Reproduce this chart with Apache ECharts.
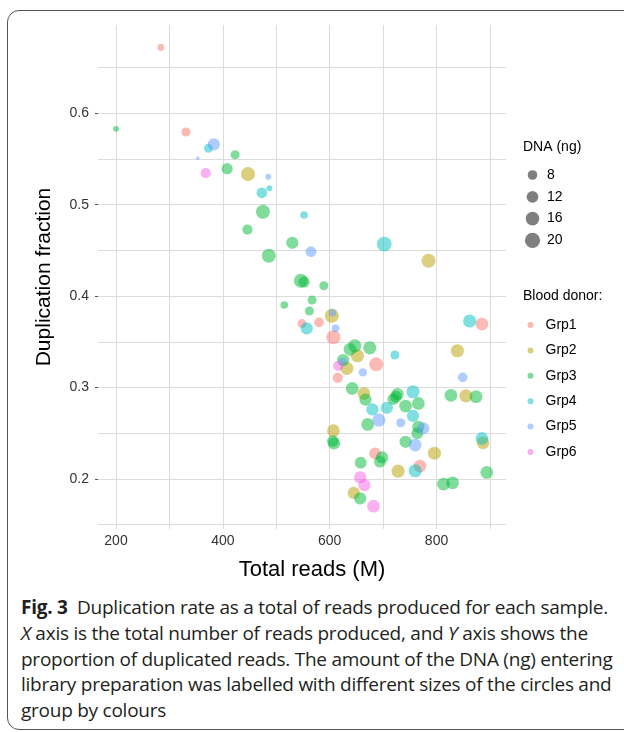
<!DOCTYPE html>
<html>
<head>
<meta charset="utf-8">
<script src="https://cdn.jsdelivr.net/npm/echarts@6/dist/echarts.min.js"></script>
<style>
  html, body { margin: 0; padding: 0; background: #fff; }
  #wrap { position: relative; width: 624px; height: 732px; overflow: hidden; }
  #frame { position: absolute; left: 7px; top: 10px; width: 640px; height: 720px;
           border: 1.5px solid #555; border-radius: 12px; box-sizing: border-box; }
  #chart { position: absolute; left: 0; top: 0; width: 624px; height: 590px; }
  #caption { position: absolute; left: 21px; top: 595px; width: 600px; white-space: nowrap;
             font-family: "Open Sans"; font-size: 19px; line-height: 25.8px; color: #231f20;
             letter-spacing: -0.25px; }
  #caption b { font-weight: 700; }
</style>
</head>
<body>
<div id="wrap">
  <div id="frame"></div>
  <div id="chart"></div>
  <div id="caption">
    <b>Fig. 3</b>&nbsp; Duplication rate as a total of reads produced for each sample.<br>
    <i>X</i> axis is the total number of reads produced, and <i>Y</i> axis shows the<br>
    proportion of duplicated reads. The amount of the DNA (ng) entering<br>
    library preparation was labelled with different sizes of the circles and<br>
    group by colours
  </div>
</div>
<script>
// [total reads (M), duplication fraction, DNA (ng)]
const grp1 = [
  [284, 0.672, 4], [331, 0.5795, 7], [548, 0.370, 7], [580, 0.3713, 8],
  [607, 0.355, 17], [687, 0.3254, 17], [615, 0.3107, 9], [885, 0.3695, 14],
  [685, 0.228, 12], [769, 0.2141, 14]
]
const grp2 = [
  [447, 0.5335, 17], [785, 0.4387, 17], [604, 0.3786, 17], [652, 0.3348, 15],
  [632, 0.321, 15], [839, 0.3403, 15], [664, 0.2935, 14], [855, 0.291, 15],
  [607, 0.2528, 14], [796, 0.2282, 15], [887, 0.2396, 14], [728, 0.2086, 15],
  [645, 0.1849, 13]
]
const grp3 = [
  [200, 0.583, 3], [423, 0.5547, 7], [408, 0.5394, 11], [475, 0.4923, 17],
  [446, 0.4727, 9], [530, 0.4584, 13], [486, 0.4442, 17], [546, 0.4169, 17],
  [552, 0.4155, 11], [589, 0.4114, 7], [567, 0.3957, 7], [515, 0.3903, 5],
  [562, 0.3837, 7], [647, 0.3457, 15], [638, 0.3418, 14], [675, 0.3435, 15],
  [625, 0.3301, 13], [642, 0.2991, 14], [667, 0.2867, 13], [719, 0.2874, 12],
  [724, 0.290, 12], [727, 0.2929, 13], [742, 0.2798, 14], [766, 0.2827, 14],
  [671, 0.2597, 14], [766, 0.2571, 13], [764, 0.2499, 12], [742, 0.2407, 13],
  [608, 0.2389, 13], [606, 0.2415, 12], [698, 0.2237, 13], [694, 0.2189, 12],
  [658, 0.2178, 12], [657, 0.1788, 13], [827, 0.2915, 14], [874, 0.290, 14],
  [894, 0.2072, 14], [813, 0.1944, 14], [830, 0.1958, 14]
]
const grp4 = [
  [373, 0.5617, 7], [473, 0.5131, 10], [487, 0.518, 3], [552, 0.4887, 5],
  [702, 0.457, 19], [557, 0.3648, 13], [722, 0.3356, 7], [862, 0.3728, 15],
  [756, 0.2954, 15], [680, 0.2761, 13], [707, 0.2779, 13], [756, 0.2691, 13],
  [885, 0.2444, 14], [760, 0.209, 15]
]
const grp5 = [
  [383, 0.566, 13], [353, 0.5508, 1], [485, 0.5306, 3], [565, 0.4486, 10],
  [605, 0.3818, 5], [611, 0.3648, 5], [624, 0.3282, 5], [662, 0.3166, 6],
  [849, 0.3112, 8], [692, 0.2644, 15], [733, 0.2615, 7], [775, 0.2553, 13],
  [760, 0.2371, 14]
]
const grp6 = [
  [368, 0.5346, 9], [616, 0.3238, 9], [657, 0.2017, 13], [665, 0.1933, 13],
  [682, 0.1703, 14]
]

const groupNames = ['Grp1', 'Grp2', 'Grp3', 'Grp4', 'Grp5', 'Grp6']
const groupData = [grp1, grp2, grp3, grp4, grp5, grp6]
const groupColors = ['#F8766D', '#B79F00', '#00BA38', '#00BFC4', '#619CFF', '#F564E3']

const xLabels = [200, 400, 600, 800]
const xGrid = [200, 300, 400, 500, 600, 700, 800, 900]
const yLabels = [0.2, 0.3, 0.4, 0.5, 0.6]
const yGrid = [0.15, 0.2, 0.25, 0.3, 0.35, 0.4, 0.45, 0.5, 0.55, 0.6, 0.65]
const dnaBreaks = [8, 12, 16, 20]

const FONT = 'Liberation Sans'
const dotSize = v => 3.4 * Math.sqrt(v)

const chart = echarts.init(document.getElementById('chart'))

const graphics = [
  {
    type: 'text', x: 44, y: 277, rotation: Math.PI / 2,
    style: { text: 'Duplication fraction', font: '21px "' + FONT + '"', fill: '#000',
             align: 'center', verticalAlign: 'middle' }
  },
  {
    type: 'text', x: 312, y: 570,
    style: { text: 'Total reads (M)', font: '22px "' + FONT + '"', fill: '#000',
             align: 'center', verticalAlign: 'middle' }
  },
  {
    type: 'text', x: 523, y: 147,
    style: { text: 'DNA (ng)', font: '14px "' + FONT + '"', fill: '#000', verticalAlign: 'middle' }
  },
  {
    type: 'text', x: 523, y: 296,
    style: { text: 'Blood donor:', font: '14px "' + FONT + '"', fill: '#000', verticalAlign: 'middle' }
  }
]
dnaBreaks.forEach((v, i) => {
  const cy = 175 + i * 21.8
  graphics.push({
    type: 'circle', shape: { cx: 532.5, cy: cy, r: dotSize(v) / 2 },
    style: { fill: 'rgba(0,0,0,0.5)' }
  })
  graphics.push({
    type: 'text', x: 547, y: cy,
    style: { text: String(v), font: '14px "' + FONT + '"', fill: '#000', verticalAlign: 'middle' }
  })
})

const option = {
  animation: false,
  textStyle: { fontFamily: FONT },
  grid: { left: 98, right: 118, top: 25, bottom: 61 },
  xAxis: {
    type: 'value', min: 166.3, max: 930,
    axisLine: { show: false },
    axisTick: { show: false, customValues: xGrid },
    splitLine: { show: true, lineStyle: { color: '#dcdcdc', width: 1 } },
    axisLabel: { customValues: xLabels, color: '#333', fontSize: 14, margin: 5 }
  },
  yAxis: [
    {
      type: 'value', min: 0.1453, max: 0.6966,
      axisLine: { show: false },
      axisTick: { show: false, customValues: yGrid },
      splitLine: { show: true, lineStyle: { color: '#dcdcdc', width: 1 } },
      axisLabel: { customValues: yLabels, color: '#333', fontSize: 14, margin: 9 }
    },
    {
      type: 'value', min: 0.1453, max: 0.6966, position: 'left',
      axisLine: { show: false },
      axisTick: { show: true, customValues: yLabels, length: 3, lineStyle: { color: '#555' } },
      axisLabel: { show: false },
      splitLine: { show: false }
    }
  ],
  legend: {
    data: groupNames,
    orient: 'vertical',
    left: 522.5, top: 312,
    icon: 'circle',
    itemWidth: 20, itemHeight: 6, itemGap: 9.4,
    itemStyle: { opacity: 0.5 },
    textStyle: { fontSize: 14, color: '#000', lineHeight: 16 },
    selectedMode: false
  },
  series: groupNames.map((name, i) => ({
    name: name,
    type: 'scatter',
    data: groupData[i],
    symbolSize: d => dotSize(d[2]),
    itemStyle: { color: groupColors[i], opacity: 0.5 },
    emphasis: { disabled: true }
  })),
  graphic: graphics
}

chart.setOption(option)
</script>
</body>
</html>
